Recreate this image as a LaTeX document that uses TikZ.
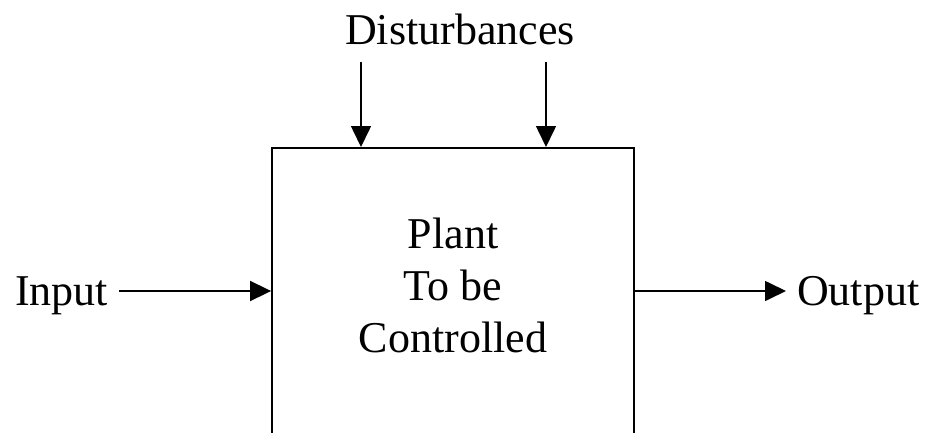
\documentclass[tikz,border=0pt]{standalone}
\usepackage{fontspec}
\setmainfont{Liberation Serif}
\usetikzlibrary{arrows.meta}
\begin{document}
\begin{tikzpicture}[x=1pt,y=-1pt,
  lbl/.style={font=\fontsize{44}{52}\selectfont, inner sep=0pt},
  conn/.style={line width=1.6pt, -{Triangle[length=21pt,width=20pt]}},
  plantbox/.style={draw, line width=1.8pt, minimum width=362pt, minimum height=400pt, inner sep=0pt, anchor=north}]
\useasboundingbox (0,0) rectangle (925,433);
\clip (0,0) rectangle (925,433);
\node[plantbox] (plant) at (453,147) {};
\node[lbl, align=center, anchor=base] (ptext) at (453,352) {Plant\\To be\\Controlled};
\node[lbl, anchor=base] (dist) at (460,45) {Disturbances};
\node[lbl, anchor=base west] (in) at (15,305) {Input};
\node[lbl, anchor=base west] (out) at (797,305) {Output};
\coordinate (d1) at (361,62);
\coordinate (d2) at (546,62);
\draw[conn] (d1) -- (d1 |- plant.north);
\draw[conn] (d2) -- (d2 |- plant.north);
\coordinate (ia) at (119,291);
\coordinate (ob) at (786,291);
\draw[conn] (ia) -- (ia -| plant.west);
\draw[conn] (ob -| plant.east) -- (ob);
\end{tikzpicture}
\end{document}
